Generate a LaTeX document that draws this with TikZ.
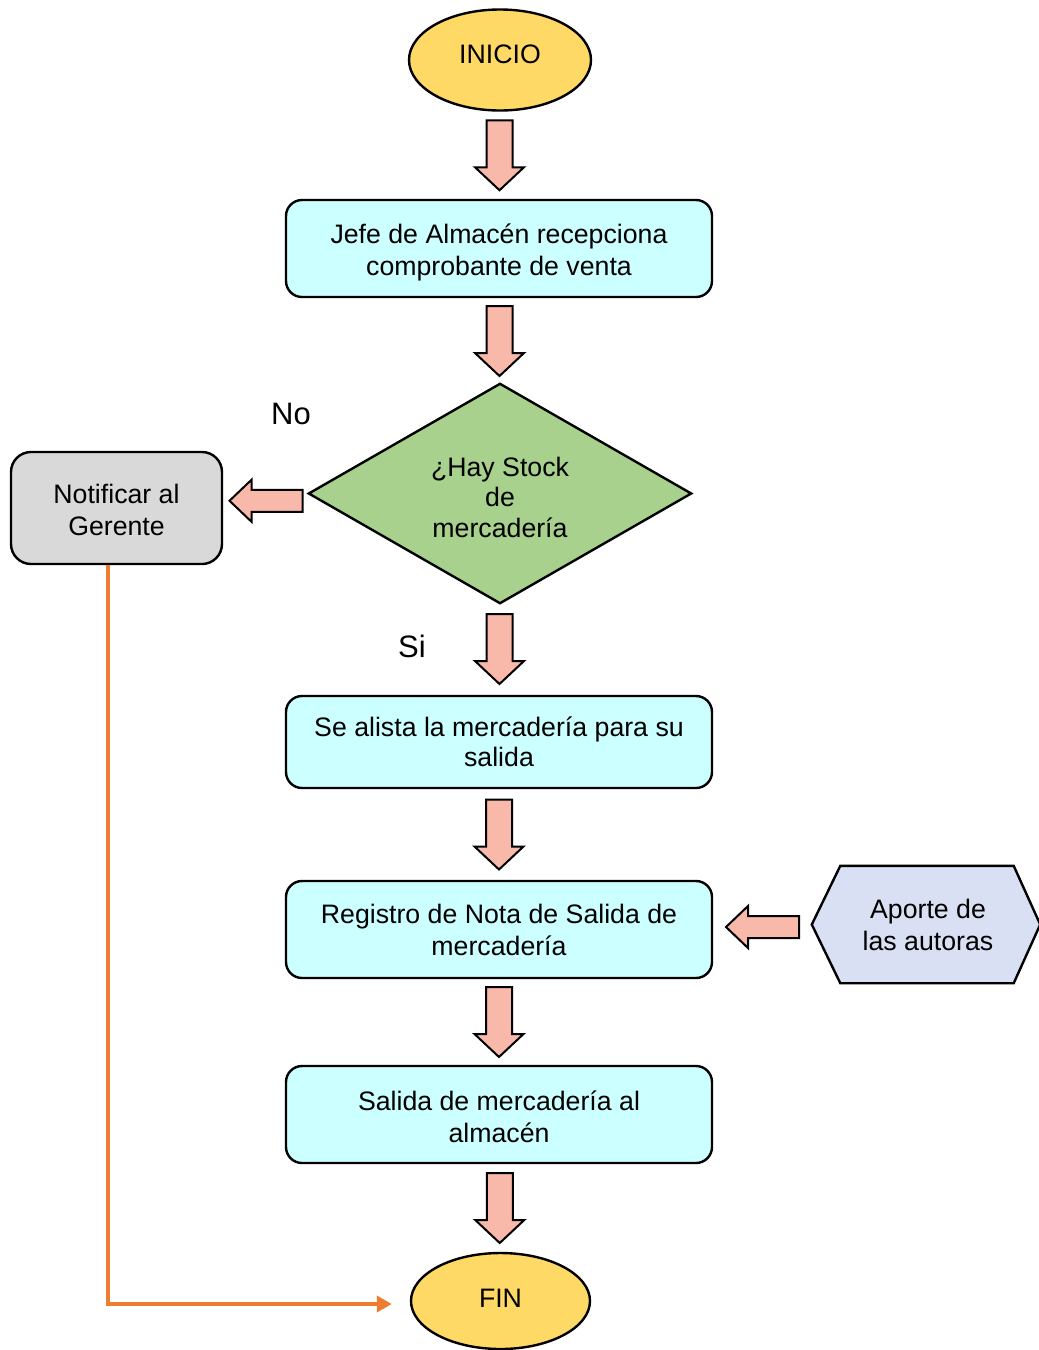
\documentclass[tikz,border=0pt]{standalone}
\usepackage{fontspec}
\setmainfont{Liberation Sans}
\usetikzlibrary{shapes.geometric,calc,backgrounds,arrows.meta}

\definecolor{termfill}{HTML}{FFD966}
\definecolor{procfill}{HTML}{CCFFFF}
\definecolor{decfill}{HTML}{A9D18E}
\definecolor{notefill}{HTML}{D9D9D9}
\definecolor{srcfill}{HTML}{DAE0F3}
\definecolor{arrowfill}{HTML}{F9B9AA}
\definecolor{linkorange}{HTML}{ED7D31}

% shift a text line vertically without changing its box
\newcommand\shiftline[2]{\raisebox{#1}[\height][\depth]{#2}}
% single line set with its baseline at the node centre, then shifted
\newcommand\termtext[2]{\raisebox{#1}[0pt][0pt]{#2}}

\tikzset{
  base/.style={font=\fontsize{26.7}{32}\selectfont, align=center, inner sep=0pt, line width=2.4pt},
  terminal/.style={base, ellipse, draw, fill=termfill},
  process/.style={base, rectangle, rounded corners=16pt, draw, fill=procfill, minimum width=426pt},
  notebox/.style={base, rectangle, rounded corners=20pt, draw, fill=notefill, minimum width=211pt, minimum height=112pt},
  answer/.style={font=\fontsize{31}{36}\selectfont, inner sep=0pt},
  outline/.style={draw, line width=2.4pt, line join=miter},
  flowarrow/.style={draw, fill=arrowfill, line width=2pt, line join=miter},
  pics/downblock/.style={code={
    \draw[flowarrow] (-13,35) -- (13,35) -- (13,-12) -- (24.5,-12) -- (0,-35)
      -- (-24.5,-12) -- (-13,-12) -- cycle;}},
  pics/leftblock/.style={code={
    \draw[flowarrow] (36.5,11) -- (-14.5,11) -- (-14.5,21) -- (-36.5,0)
      -- (-14.5,-21) -- (-14.5,-11) -- (36.5,-11) -- cycle;}},
  link/.style={draw=linkorange, line width=3.8pt, -{Triangle[length=15pt,width=16pt]}}
}

\begin{document}
\begin{tikzpicture}[x=1pt, y=1pt]
  \useasboundingbox (0,0) rectangle (1039,-1350);

  % terminals and process steps
  \node[terminal, minimum width=182pt, minimum height=101pt] (inicio) at (500,-60) {\termtext{-3pt}{INICIO}};
  \node[process, minimum height=97pt] (jefe) at (499,-248.5)
    {\shiftline{-4pt}{Jefe de Almacén recepciona}\\\shiftline{-4pt}{comprobante de venta}};
  \node[base, minimum width=380pt, minimum height=217pt, font=\fontsize{26.7}{30.5}\selectfont] (stock) at (500,-493.5)
    {\shiftline{-3.5pt}{¿Hay Stock}\\\shiftline{-3.5pt}{de}\\\shiftline{-3.5pt}{mercadería}};
  \node[notebox] (notif) at (116.5,-508) {\shiftline{-2pt}{Notificar al}\\\shiftline{-2pt}{Gerente}};
  \node[process, minimum height=92pt, font=\fontsize{26.7}{30}\selectfont] (alista) at (499,-742)
    {Se alista la mercadería para su\\salida};
  \node[process, minimum height=97pt] (registro) at (499,-929.5) {Registro de Nota de Salida de\\mercadería};
  \node[base, minimum width=226pt, minimum height=115pt] (aporte) at (926,-924.5)
    {\hspace*{4pt}Aporte de\\\hspace*{4pt}las autoras};
  \node[process, minimum height=97pt] (salida) at (499,-1114.5)
    {\shiftline{-2pt}{Salida de mercadería al}\\\shiftline{-2pt}{almacén}};
  \node[terminal, minimum width=179pt, minimum height=96pt] (fin) at (500.5,-1301) {\termtext{-6.5pt}{FIN}};

  % answer labels of the decision
  \node[answer] (no) at (291,-414) {No};
  \node[answer] (si) at (412,-646) {Si};

  % decision diamond and source hexagon outlines
  \begin{scope}[on background layer]
    \path[outline, fill=decfill] (stock.north) -- (stock.east) -- (stock.south) -- (stock.west) -- cycle;
    \path[outline, fill=srcfill] (aporte.west) -- ($(aporte.north west)+(28.5,0)$)
      -- ($(aporte.north east)+(-26.5,0)$) -- (aporte.east)
      -- ($(aporte.south east)+(-26.5,0)$) -- ($(aporte.south west)+(28.5,0)$) -- cycle;
  \end{scope}

  % block arrows between the steps
  \path ($(inicio.south)!0.5!(jefe.north)$) pic {downblock};
  \path ($(jefe.south)!0.5!(stock.north)$) pic {downblock};
  \path ($(stock.south)!0.5!(alista.north)$) pic {downblock};
  \path ($(alista.south)!0.5!(registro.north)$) pic {downblock};
  \path ($(registro.south)!0.5!(salida.north)$) pic {downblock};
  \path ($(salida.south)!0.5!(fin.north)$) pic {downblock};
  \path ($(stock.west)!0.5!(notif.east)$) pic {leftblock};
  \path ($(aporte.west)!0.5!(registro.east)$) pic {leftblock};

  % notification path to the end
  \draw[link] ([xshift=-8.5pt]notif.south) |- ([xshift=-18pt,yshift=-3pt]fin.west);
\end{tikzpicture}
\end{document}
